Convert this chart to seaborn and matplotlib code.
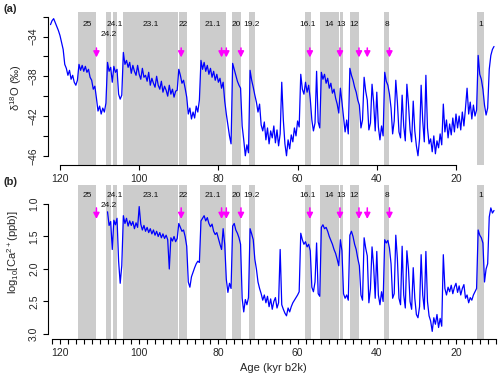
import numpy as np
import matplotlib
matplotlib.use("Agg")
import matplotlib.pyplot as plt
import matplotlib.transforms as mtransforms
from matplotlib.ticker import FixedLocator
import seaborn as sns

# NGRIP d18O (permil), every 0.4 kyr from 122.4 kyr b2k
d18o_vals = [
    -32.8, -32.4, -32.2, -32.6, -33.0, -33.4, -33.9, -34.6, -35.3, -36.8,
    -37.2, -37.9, -37.4, -38.3, -37.9, -38.6, -38.9, -38.4, -36.8, -37.4,
    -36.9, -37.5, -37.0, -37.6, -37.3, -38.1, -38.4, -39.3, -39.0, -40.2,
    -41.5, -41.0, -41.8, -41.2, -41.6, -40.7, -36.6, -37.5, -37.1, -38.6,
    -37.0, -37.6, -37.3, -39.8, -40.3, -39.9, -35.6, -36.8, -36.4, -37.1,
    -36.6, -37.7, -36.9, -37.5, -37.9, -36.9, -37.8, -38.3, -37.2, -38.1,
    -37.9, -38.5, -37.6, -38.9, -38.2, -38.7, -39.1, -38.0, -38.9, -39.3,
    -38.5, -39.6, -39.0, -39.4, -40.0, -38.9, -39.8, -39.3, -40.1, -39.5,
    -39.4, -37.3, -37.9, -38.7, -38.4, -39.2, -40.1, -41.8, -41.2, -42.3,
    -41.6, -42.2, -41.0, -41.6, -40.4, -36.4, -37.3, -36.6, -37.5, -36.9,
    -37.8, -37.2, -38.1, -37.5, -38.4, -37.8, -38.6, -38.2, -39.2, -38.6,
    -40.5, -41.8, -42.9, -44.0, -44.8, -36.7, -37.3, -37.9, -38.5, -38.9,
    -39.2, -43.0, -44.4, -46.0, -44.9, -45.7, -37.4, -38.4, -39.1, -39.9,
    -40.6, -41.6, -40.8, -42.9, -43.5, -42.6, -44.4, -43.2, -44.8, -43.5,
    -44.2, -43.0, -44.7, -43.4, -45.0, -43.8, -38.6, -42.4, -44.8, -46.0,
    -44.4, -45.3, -43.9, -44.6, -43.2, -44.0, -42.5, -43.1, -37.8, -39.3,
    -39.8, -38.6, -39.6, -38.9, -40.3, -42.4, -43.5, -42.7, -37.5, -42.6,
    -43.2, -37.6, -38.3, -37.8, -38.7, -38.2, -39.2, -38.7, -39.7, -39.3,
    -40.2, -40.8, -41.7, -39.2, -40.6, -42.1, -43.6, -42.4, -43.8, -37.2,
    -37.9, -38.4, -39.1, -39.6, -40.4, -40.9, -43.2, -42.4, -38.1, -39.5,
    -40.4, -43.4, -42.7, -38.8, -40.6, -43.5, -39.6, -43.1, -44.4, -43.0,
    -44.0, -37.6, -38.5, -38.9, -39.8, -41.2, -43.8, -42.5, -38.4, -40.6,
    -43.6, -44.2, -39.9, -43.0, -44.5, -38.8, -40.8, -43.4, -44.6, -40.5,
    -43.5, -45.0, -46.0, -44.3, -38.9, -42.5, -44.6, -37.9, -43.2, -44.8,
    -44.3, -45.6, -44.0, -45.8, -44.5, -45.2, -43.8, -44.9, -40.8, -43.6,
    -42.4, -44.2, -42.8, -43.9, -42.2, -43.6, -41.8, -43.2, -42.0, -43.4,
    -41.6, -43.0, -41.2, -39.2, -41.8, -40.6, -42.3, -40.9, -42.0, -41.4,
    -35.9, -37.8, -38.3, -39.3, -40.9, -41.9, -41.2, -37.3, -35.9, -35.3,
    -35.0,
]
d18o_age = np.linspace(122.4, 122.4 - 0.4 * (len(d18o_vals) - 1), len(d18o_vals))

# NGRIP log10 Ca2+ (ppb), every 0.4 kyr from 108.0 kyr b2k
ca_vals = [
    1.12, 1.33, 1.27, 1.70, 1.25, 1.32, 1.22, 1.88, 2.22, 1.95,
    1.18, 1.30, 1.22, 1.34, 1.26, 1.33, 1.27, 1.38, 1.29, 1.36,
    1.04, 1.31, 1.40, 1.33, 1.42, 1.36, 1.44, 1.38, 1.46, 1.40,
    1.48, 1.42, 1.50, 1.44, 1.52, 1.46, 1.53, 1.48, 1.55, 2.00,
    1.52, 1.57, 1.50, 1.58, 1.53, 1.30, 1.36, 1.42, 1.40, 1.50,
    1.65, 2.20, 2.28, 2.12, 2.05, 1.98, 1.92, 1.88, 1.90, 1.26,
    1.22, 1.18, 1.26, 1.21, 1.30, 1.35, 1.31, 1.42, 1.47, 1.44,
    1.53, 1.62, 1.70, 1.38, 1.62, 2.16, 2.36, 2.22, 2.30, 1.34,
    1.30, 1.40, 1.45, 1.52, 1.62, 2.45, 2.66, 2.47, 2.55, 2.44,
    1.38, 1.46, 1.55, 1.85, 2.00, 2.20, 2.30, 2.38, 2.48, 2.40,
    2.52, 2.42, 2.58, 2.46, 2.62, 2.50, 2.44, 2.60, 2.52, 1.70,
    2.55, 2.62, 2.68, 2.72, 2.60, 2.66, 2.58, 2.52, 2.48, 2.44,
    2.40, 2.35, 1.45, 1.55, 1.62, 1.58, 1.66, 1.62, 1.72, 2.28,
    2.35, 2.20, 1.60, 2.38, 2.42, 1.36, 1.32, 1.38, 1.36, 1.42,
    1.50, 1.56, 1.62, 1.70, 1.76, 1.85, 1.95, 1.55, 1.72, 2.38,
    2.45, 2.40, 2.48, 1.48, 1.42, 1.50, 1.62, 1.70, 1.84, 1.95,
    2.40, 2.48, 1.52, 1.68, 1.80, 2.52, 2.30, 1.66, 1.95, 2.45,
    1.73, 2.40, 2.55, 2.35, 2.50, 1.55, 1.60, 1.56, 1.68, 1.92,
    2.45, 2.38, 1.48, 1.84, 2.45, 2.55, 1.65, 2.40, 2.60, 1.72,
    2.00, 2.50, 2.62, 1.98, 2.45, 2.70, 2.75, 2.58, 1.78, 2.40,
    2.62, 1.73, 2.50, 2.72, 2.80, 2.96, 2.75, 2.85, 2.70, 2.90,
    2.76, 2.88, 1.78, 2.30, 2.40, 2.28, 2.35, 2.25, 2.38, 2.28,
    2.22, 2.36, 2.26, 2.40, 2.30, 2.24, 2.45, 2.40, 2.52, 2.44,
    2.48, 2.40, 2.35, 2.30, 1.40, 1.48, 1.52, 1.60, 2.20, 2.00,
    1.92, 1.20, 1.06, 1.14, 1.10,
]
ca_age = np.linspace(108.0, 108.0 - 0.4 * (len(ca_vals) - 1), len(ca_vals))

# Greenland interstadials (kyr b2k)
gi_names = ["25", "24.2", "24.1", "23.1", "22", "21.1", "20", "19.2",
            "16.1", "14", "13", "12", "8", "1"]
gi_start = [115.4, 108.3, 106.7, 104.1, 90.05, 84.76, 76.44, 72.34,
            58.1, 54.3, 49.3, 46.8, 38.2, 14.8]
gi_end = [110.9, 107.2, 105.6, 90.25, 87.9, 78.0, 74.3, 70.8,
          56.7, 49.6, 48.6, 44.5, 36.8, 12.9]

arrow_ages = [110.8, 89.4, 79.2, 78.0, 74.3, 56.9, 49.3, 44.5, 42.4, 36.8]

sns.set_style("ticks")
plt.rcParams["font.family"] = ["Liberation Sans", "DejaVu Sans"]
plt.rcParams["mathtext.default"] = "regular"
plt.rcParams["axes.unicode_minus"] = True

fig = plt.figure(figsize=(5, 3.78), dpi=100)
ax_a = fig.add_axes([0.096, 1 - 165 / 378, 0.9, 153 / 378])
ax_b = fig.add_axes([0.096, 1 - 339 / 378, 0.9, 154 / 378])

grey = "#cccccc"
blue = "#0000ff"
magenta = "#ff00ff"


def shade(ax, label_y):
    trans = mtransforms.blended_transform_factory(ax.transData, ax.transAxes)
    for name, s, e in zip(gi_names, gi_start, gi_end):
        ax.axvspan(e, s, color=grey, lw=0, zorder=0)
        yy = label_y - (0.07 if name == "24.2" else 0)
        ax.text((s + e) / 2, yy, name, transform=trans, fontsize=6,
                ha="center", va="center", color="#111111", zorder=3)


def arrows(ax, y0, y1):
    for a in arrow_ages:
        ax.annotate("", xy=(a, y1), xytext=(a, y0),
                    arrowprops=dict(arrowstyle="-|>,head_length=0.35,head_width=0.18",
                                    color=magenta, lw=1.1, shrinkA=0, shrinkB=0),
                    zorder=4)


def style(ax):
    for sp in ["top", "right"]:
        ax.spines[sp].set_visible(False)
    for sp in ["left", "bottom"]:
        ax.spines[sp].set_linewidth(0.8)
        ax.spines[sp].set_color("black")
    ax.tick_params(axis="both", which="both", direction="out", length=3.5,
                   width=0.8, labelsize=7.5, color="black", pad=3)
    ax.tick_params(axis="y", labelrotation=90)
    for lab in ax.get_yticklabels():
        lab.set_va("center")
    ax.set_xlabel("")
    ax.set_ylabel("")


# panel (a)
shade(ax_a, 0.92)
sns.lineplot(x=d18o_age, y=d18o_vals, ax=ax_a, color=blue, linewidth=0.9, sort=False)
arrows(ax_a, -35.15, -36.1)
ax_a.set_xlim(123.03, 9.39)
ax_a.set_ylim(-46.93, -31.53)
ax_a.spines["bottom"].set_bounds(120, 20)
ax_a.spines["left"].set_bounds(-46, -32)
ax_a.xaxis.set_major_locator(FixedLocator([120, 100, 80, 60, 40, 20]))
ax_a.set_xticklabels(["120", "100", "80", "60", "40", "20"])
ax_a.yaxis.set_major_locator(FixedLocator([-46, -44, -42, -40, -38, -36, -34, -32]))
ax_a.set_yticklabels(["\u221246", "", "\u221242", "", "\u221238", "", "\u221234", ""])
style(ax_a)

# panel (b)
shade(ax_b, 0.935)
sns.lineplot(x=ca_age, y=ca_vals, ax=ax_b, color=blue, linewidth=0.9, sort=False)
arrows(ax_b, 1.06, 1.23)
ax_b.set_xlim(123.03, 9.39)
ax_b.set_ylim(3.077, 0.708)
ax_b.spines["bottom"].set_bounds(122, 10)
ax_b.spines["left"].set_bounds(1.0, 3.0)
ax_b.xaxis.set_major_locator(FixedLocator([120, 100, 80, 60, 40, 20]))
ax_b.set_xticklabels(["120", "100", "80", "60", "40", "20"])
ax_b.xaxis.set_minor_locator(FixedLocator(list(range(122, 9, -2))))
ax_b.yaxis.set_major_locator(FixedLocator([1.0, 1.5, 2.0, 2.5, 3.0]))
ax_b.set_yticklabels(["1.0", "1.5", "2.0", "2.5", "3.0"])
style(ax_b)

fig.text(16 / 500, 1 - 88 / 378, r"δ$^{18}$O (‰)", rotation=90,
         ha="center", va="center", fontsize=8)
fig.text(13 / 500, 1 - 252 / 378, r"log$_{10}$[Ca$^{2+}$(ppb)]", rotation=90,
         ha="center", va="center", fontsize=8)
fig.text(273 / 500, 1 - 368 / 378, "Age (kyr b2k)", ha="center", va="center",
         fontsize=8)
fig.text(10 / 500, 1 - 9 / 378, "(a)", ha="center", va="center",
         fontsize=8, fontweight="bold")
fig.text(10 / 500, 1 - 182 / 378, "(b)", ha="center", va="center",
         fontsize=8, fontweight="bold")

fig.savefig("out.png", dpi=100)
